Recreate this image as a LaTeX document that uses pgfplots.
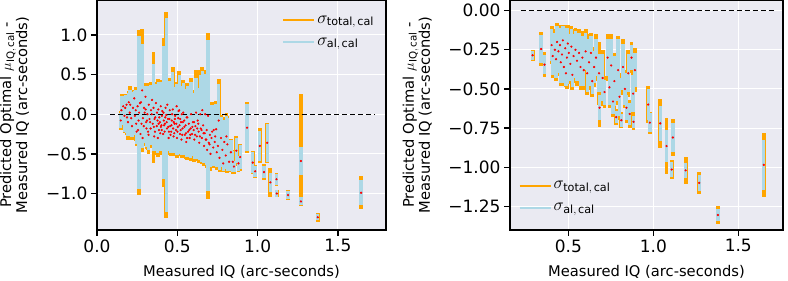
\documentclass[border=0pt]{standalone}
\usepackage{pgfplots}
\pgfplotsset{compat=1.18}
\usepackage{pgfplotstable}
\usepackage{fontspec}
\setmainfont{DejaVu Sans}
\definecolor{bgc}{HTML}{EAEAF2}
\definecolor{orc}{HTML}{FFA500}
\definecolor{lbc}{HTML}{ADD8E6}

\pgfplotstableread{
x y et ea
0.152 0.05 0.20 0.18
0.148 -0.08 0.12 0.10
0.163 0.10 0.15 0.13
0.171 -0.02 0.22 0.20
0.176 0.08 0.18 0.16
0.184 0.12 0.13 0.12
0.193 -0.10 0.22 0.18
0.187 -0.04 0.22 0.20
0.204 0.02 0.33 0.28
0.198 0.15 0.14 0.12
0.213 -0.05 0.20 0.17
0.207 0.12 0.20 0.18
0.224 0.08 0.22 0.20
0.218 -0.15 0.18 0.14
0.232 0.20 0.11 0.09
0.236 -0.02 0.27 0.24
0.244 -0.12 0.22 0.18
0.241 0.05 0.29 0.26
0.247 -0.22 0.18 0.15
0.253 0.10 0.20 0.17
0.256 -0.20 0.18 0.13
0.262 0.02 1.04 0.96
0.259 -0.08 0.32 0.28
0.268 0.14 0.25 0.23
0.274 0.15 0.24 0.21
0.271 -0.25 0.21 0.16
0.277 -0.12 0.28 0.24
0.281 0.30 0.78 0.58
0.286 -0.05 0.28 0.25
0.284 -0.30 0.16 0.13
0.293 0.08 0.31 0.28
0.291 -0.15 0.24 0.21
0.297 0.02 0.30 0.27
0.302 0.22 0.17 0.14
0.306 -0.10 0.30 0.26
0.308 -0.18 0.26 0.23
0.303 0.06 0.32 0.29
0.314 0.00 0.33 0.30
0.318 -0.22 0.23 0.18
0.312 -0.08 0.29 0.26
0.323 0.12 0.27 0.24
0.327 -0.06 0.31 0.28
0.321 -0.26 0.24 0.19
0.334 -0.18 0.24 0.21
0.336 0.05 0.36 0.32
0.331 -0.10 0.31 0.28
0.343 0.18 0.22 0.19
0.347 -0.12 0.30 0.26
0.341 0.00 0.35 0.31
0.352 0.08 0.70 0.55
0.356 -0.28 0.20 0.15
0.354 -0.16 0.30 0.26
0.358 -0.06 0.31 0.28
0.363 -0.04 0.33 0.30
0.367 0.14 0.27 0.24
0.361 -0.22 0.29 0.24
0.372 -0.15 0.32 0.28
0.377 -0.08 0.29 0.26
0.374 0.02 0.33 0.30
0.379 -0.30 0.24 0.19
0.382 0.06 0.38 0.35
0.386 -0.20 0.28 0.23
0.384 -0.12 0.32 0.29
0.388 -0.04 0.34 0.31
0.392 -0.10 0.31 0.29
0.397 0.10 0.33 0.30
0.394 -0.24 0.27 0.23
0.398 -0.16 0.29 0.26
0.401 -0.14 0.28 0.25
0.404 -0.02 0.36 0.33
0.407 0.04 0.37 0.33
0.403 -0.20 0.28 0.25
0.412 -0.25 0.25 0.21
0.414 0.02 0.94 0.84
0.416 -0.08 0.31 0.28
0.418 -0.14 0.33 0.30
0.423 -0.12 0.31 0.28
0.427 0.08 0.32 0.28
0.421 -0.22 0.30 0.26
0.425 -0.04 0.35 0.32
0.432 -0.01 1.30 1.22
0.436 -0.18 0.30 0.26
0.434 -0.10 0.31 0.28
0.438 0.12 0.34 0.29
0.442 -0.06 0.34 0.31
0.446 -0.30 0.22 0.17
0.444 -0.16 0.31 0.28
0.448 -0.22 0.28 0.25
0.453 0.05 0.41 0.37
0.456 -0.15 0.31 0.28
0.451 -0.06 0.35 0.32
0.458 -0.26 0.27 0.23
0.462 -0.22 0.27 0.24
0.466 -0.08 0.37 0.34
0.464 -0.14 0.33 0.30
0.468 0.00 0.37 0.34
0.472 0.06 0.54 0.47
0.477 -0.28 0.25 0.21
0.474 -0.18 0.31 0.28
0.478 -0.10 0.34 0.31
0.483 -0.12 0.33 0.30
0.487 -0.02 0.39 0.36
0.481 -0.24 0.28 0.25
0.485 -0.06 0.36 0.33
0.492 -0.20 0.29 0.26
0.496 0.10 0.31 0.28
0.494 -0.12 0.33 0.30
0.498 -0.30 0.25 0.21
0.503 -0.16 0.34 0.31
0.506 -0.05 0.41 0.38
0.501 -0.22 0.30 0.27
0.508 0.04 0.37 0.33
0.512 0.05 0.50 0.44
0.517 -0.25 0.28 0.25
0.514 -0.14 0.34 0.31
0.518 -0.06 0.37 0.34
0.523 -0.10 0.35 0.32
0.526 -0.32 0.23 0.19
0.521 -0.20 0.31 0.28
0.528 0.00 0.39 0.35
0.533 -0.18 0.31 0.29
0.537 0.02 0.41 0.37
0.531 -0.26 0.29 0.26
0.535 -0.10 0.35 0.32
0.543 -0.08 0.37 0.34
0.547 -0.26 0.27 0.23
0.544 -0.16 0.34 0.31
0.552 -0.14 0.39 0.36
0.556 -0.35 0.21 0.17
0.554 -0.24 0.31 0.28
0.558 -0.04 0.39 0.36
0.563 -0.04 0.43 0.39
0.567 -0.22 0.31 0.29
0.561 -0.30 0.28 0.24
0.572 -0.12 0.36 0.33
0.577 -0.30 0.27 0.23
0.574 -0.20 0.35 0.32
0.583 -0.18 0.41 0.37
0.586 0.00 0.46 0.41
0.581 -0.26 0.31 0.28
0.592 -0.25 0.31 0.28
0.597 -0.10 0.39 0.35
0.594 -0.16 0.37 0.34
0.602 -0.20 0.36 0.33
0.606 -0.32 0.28 0.25
0.604 -0.10 0.41 0.37
0.613 -0.15 0.43 0.39
0.617 0.02 0.54 0.44
0.611 -0.26 0.33 0.30
0.622 -0.28 0.31 0.28
0.627 -0.08 0.46 0.41
0.624 -0.18 0.39 0.35
0.633 -0.22 0.39 0.35
0.637 -0.36 0.25 0.21
0.631 -0.12 0.43 0.39
0.643 0.00 0.56 0.50
0.646 -0.18 0.41 0.37
0.641 -0.28 0.33 0.30
0.653 -0.30 0.33 0.30
0.656 0.05 0.55 0.49
0.651 -0.20 0.37 0.34
0.663 -0.24 0.39 0.35
0.667 -0.40 0.25 0.21
0.661 -0.14 0.41 0.37
0.674 0.00 0.56 0.51
0.677 -0.32 0.31 0.28
0.671 -0.24 0.37 0.33
0.683 -0.20 0.41 0.37
0.686 -0.45 0.23 0.19
0.681 -0.32 0.31 0.28
0.692 -0.02 1.05 0.95
0.696 -0.36 0.29 0.26
0.703 -0.26 0.36 0.33
0.707 -0.50 0.21 0.17
0.701 -0.38 0.29 0.26
0.713 -0.30 0.31 0.28
0.717 -0.22 0.37 0.33
0.724 -0.42 0.26 0.23
0.727 -0.20 0.36 0.31
0.733 -0.35 0.29 0.26
0.736 -0.28 0.33 0.30
0.742 -0.19 0.36 0.32
0.746 -0.48 0.22 0.19
0.753 -0.40 0.29 0.26
0.758 -0.08 0.53 0.46
0.763 -0.55 0.18 0.15
0.772 -0.30 0.29 0.26
0.781 -0.45 0.23 0.21
0.786 -0.62 0.11 0.09
0.793 -0.35 0.31 0.28
0.802 -0.52 0.19 0.17
0.806 -0.28 0.29 0.26
0.812 -0.38 0.36 0.33
0.823 -0.60 0.13 0.11
0.834 -0.48 0.17 0.15
0.846 -0.60 0.15 0.13
0.853 -0.66 0.09 0.07
0.868 -0.46 0.19 0.16
0.881 -0.62 0.11 0.09
0.892 -0.54 0.17 0.15
0.935 -0.17 0.32 0.30
0.97 -0.61 0.15 0.13
0.985 -0.72 0.08 0.07
1.014 -0.40 0.22 0.19
1.04 -0.73 0.10 0.08
1.06 -0.36 0.25 0.24
1.08 -0.86 0.18 0.12
1.118 -0.82 0.08 0.07
1.12 -1.00 0.05 0.04
1.19 -1.02 0.06 0.05
1.27 -0.59 0.18 0.18
1.27 -1.10 0.06 0.05
1.375 -1.30 0.06 0.04
1.645 -0.99 0.205 0.16
}\leftdata

\pgfplotstableread{
x y et ea
0.29 -0.285 0.035 0.03
0.34 -0.245 0.11 0.09
0.36 -0.345 0.08 0.06
0.402 -0.22 0.12 0.10
0.408 -0.29 0.14 0.12
0.421 -0.25 0.13 0.11
0.428 -0.31 0.14 0.12
0.434 -0.20 0.12 0.10
0.442 -0.26 0.16 0.14
0.451 -0.22 0.13 0.11
0.456 -0.33 0.15 0.13
0.463 -0.28 0.18 0.16
0.468 -0.19 0.10 0.09
0.474 -0.36 0.12 0.10
0.482 -0.24 0.15 0.13
0.486 -0.40 0.09 0.08
0.492 -0.30 0.20 0.17
0.497 -0.21 0.12 0.10
0.503 -0.27 0.14 0.12
0.512 -0.34 0.13 0.11
0.518 -0.23 0.13 0.11
0.524 -0.41 0.10 0.08
0.531 -0.29 0.17 0.14
0.542 -0.25 0.14 0.12
0.551 -0.32 0.16 0.13
0.563 -0.27 0.15 0.13
0.572 -0.36 0.15 0.12
0.583 -0.30 0.17 0.14
0.591 -0.38 0.13 0.10
0.602 -0.26 0.14 0.12
0.611 -0.40 0.14 0.12
0.622 -0.33 0.18 0.15
0.633 -0.27 0.13 0.11
0.641 -0.45 0.10 0.08
0.652 -0.36 0.13 0.10
0.663 -0.30 0.15 0.12
0.681 -0.40 0.20 0.12
0.684 -0.62 0.12 0.08
0.702 -0.43 0.18 0.15
0.713 -0.52 0.10 0.08
0.731 -0.30 0.15 0.12
0.742 -0.49 0.13 0.11
0.752 -0.35 0.20 0.17
0.763 -0.58 0.10 0.08
0.771 -0.45 0.18 0.16
0.782 -0.68 0.05 0.04
0.793 -0.38 0.22 0.20
0.801 -0.55 0.15 0.12
0.812 -0.70 0.05 0.04
0.822 -0.36 0.18 0.15
0.833 -0.50 0.12 0.10
0.842 -0.62 0.10 0.08
0.853 -0.40 0.15 0.12
0.861 -0.66 0.09 0.07
0.872 -0.30 0.10 0.08
0.881 -0.53 0.18 0.12
0.884 -0.71 0.05 0.04
0.892 -0.38 0.14 0.11
0.97 -0.60 0.12 0.10
0.98 -0.715 0.07 0.06
1.041 -0.72 0.155 0.11
1.078 -0.865 0.18 0.10
1.108 -1.015 0.06 0.05
1.115 -0.81 0.12 0.09
1.19 -1.02 0.085 0.05
1.27 -1.10 0.07 0.05
1.38 -1.305 0.055 0.04
1.65 -0.985 0.205 0.16
}\rightdata

\pgfplotsset{
  myaxis/.style={
    scale only axis,
    axis background/.style={fill=bgc},
    grid=major, major grid style={white, line width=1pt},
    axis line style={black, line width=1.6pt},
    tick align=outside, xtick pos=bottom, ytick pos=left,
    major tick length=6pt, tick style={black, line width=1.4pt},
    tick label style={font=\fontsize{17}{20}\selectfont},
    label style={font=\fontsize{14.7}{16}\selectfont},
    xlabel={Measured IQ (arc-seconds)},
    ylabel={Predicted Optimal $\mu_{\mathrm{IQ,\,cal}}$ -\\Measured IQ (arc-seconds)},
    ylabel style={align=center},
    xlabel style={at={(axis description cs:0.5,-0.204)}, anchor=base},
    legend style={draw=none, fill=none, font=\fontsize{16}{19}\selectfont, row sep=9pt},
    legend cell align=left,
    legend image code/.code={\draw[#1] (0pt,0pt) -- (31pt,0pt);},
  },
  orbar/.style={forget plot, draw=none, mark=none,
    error bars/.cd, y dir=both, y explicit, error mark=none,
    error bar style={draw=orc, line width=3.8pt}},
  lbbar/.style={forget plot, draw=none, mark=none,
    error bars/.cd, y dir=both, y explicit, error mark=none,
    error bar style={draw=lbc, line width=3.3pt}},
  reddot/.style={forget plot, only marks, color=red, mark=*, mark size=0.9pt, mark options={draw=none, fill=red}},
}

\begin{document}
\begin{tikzpicture}
\begin{axis}[myaxis, at={(97pt,51pt)}, anchor=south west,
  width=289pt, height=230pt,
  xmin=0, xmax=1.80, ymin=-1.46, ymax=1.44,
  xtick={0,0.5,1,1.5}, xticklabels={0.0,0.5,1.0,1.5},
  ytick={-1,-0.5,0,0.5,1}, yticklabels={−1.0,−0.5,0.0,0.5,1.0},
  ylabel style={at={(axis description cs:-0.285,0.5)}, anchor=center},
  legend style={at={(axis description cs:0.63,0.95)}, anchor=north west},
]
\addlegendimage{draw=orc, line width=2pt}
\addlegendentry{$\sigma_{\mathrm{total,\,cal}}$}
\addlegendimage{draw=lbc, line width=2pt}
\addlegendentry{$\sigma_{\mathrm{al,\,cal}}$}
\addplot[orbar] coordinates {(1.27,-0.59) += (0,0.84) -= (0,0.45)};
\addplot[orbar] table[x=x, y=y, y error=et] {\leftdata};
\addplot[lbbar] table[x=x, y=y, y error=ea] {\leftdata};
\addplot[forget plot, black, dashed, dash pattern=on 5pt off 3pt, line width=1.4pt] coordinates {(0.08,0) (1.73,0)};
\addplot[reddot] table[x=x, y=y] {\leftdata};
\end{axis}

\begin{axis}[myaxis, at={(510pt,51pt)}, anchor=south west,
  width=273pt, height=230pt,
  xmin=0.157, xmax=1.763, ymin=-1.401, ymax=0.068,
  xtick={0.5,1,1.5}, xticklabels={0.5,1.0,1.5},
  ytick={-1.25,-1,-0.75,-0.5,-0.25,0}, yticklabels={−1.25,−1.00,−0.75,−0.50,−0.25,0.00},
  ylabel style={at={(axis description cs:-0.34,0.5)}, anchor=center},
  legend style={at={(axis description cs:0.02,0.06)}, anchor=south west},
]
\addlegendimage{draw=orc, line width=2pt}
\addlegendentry{$\sigma_{\mathrm{total,\,cal}}$}
\addlegendimage{draw=lbc, line width=2pt}
\addlegendentry{$\sigma_{\mathrm{al,\,cal}}$}
\addplot[orbar] table[x=x, y=y, y error=et] {\rightdata};
\addplot[lbbar] table[x=x, y=y, y error=ea] {\rightdata};
\addplot[forget plot, black, dashed, dash pattern=on 5pt off 3pt, line width=1.4pt] coordinates {(0.22,0) (1.72,0)};
\addplot[reddot] table[x=x, y=y] {\rightdata};
\end{axis}
\pgfresetboundingbox
\path[use as bounding box] (0pt,0pt) rectangle (788pt,281pt);
\end{tikzpicture}
\end{document}
